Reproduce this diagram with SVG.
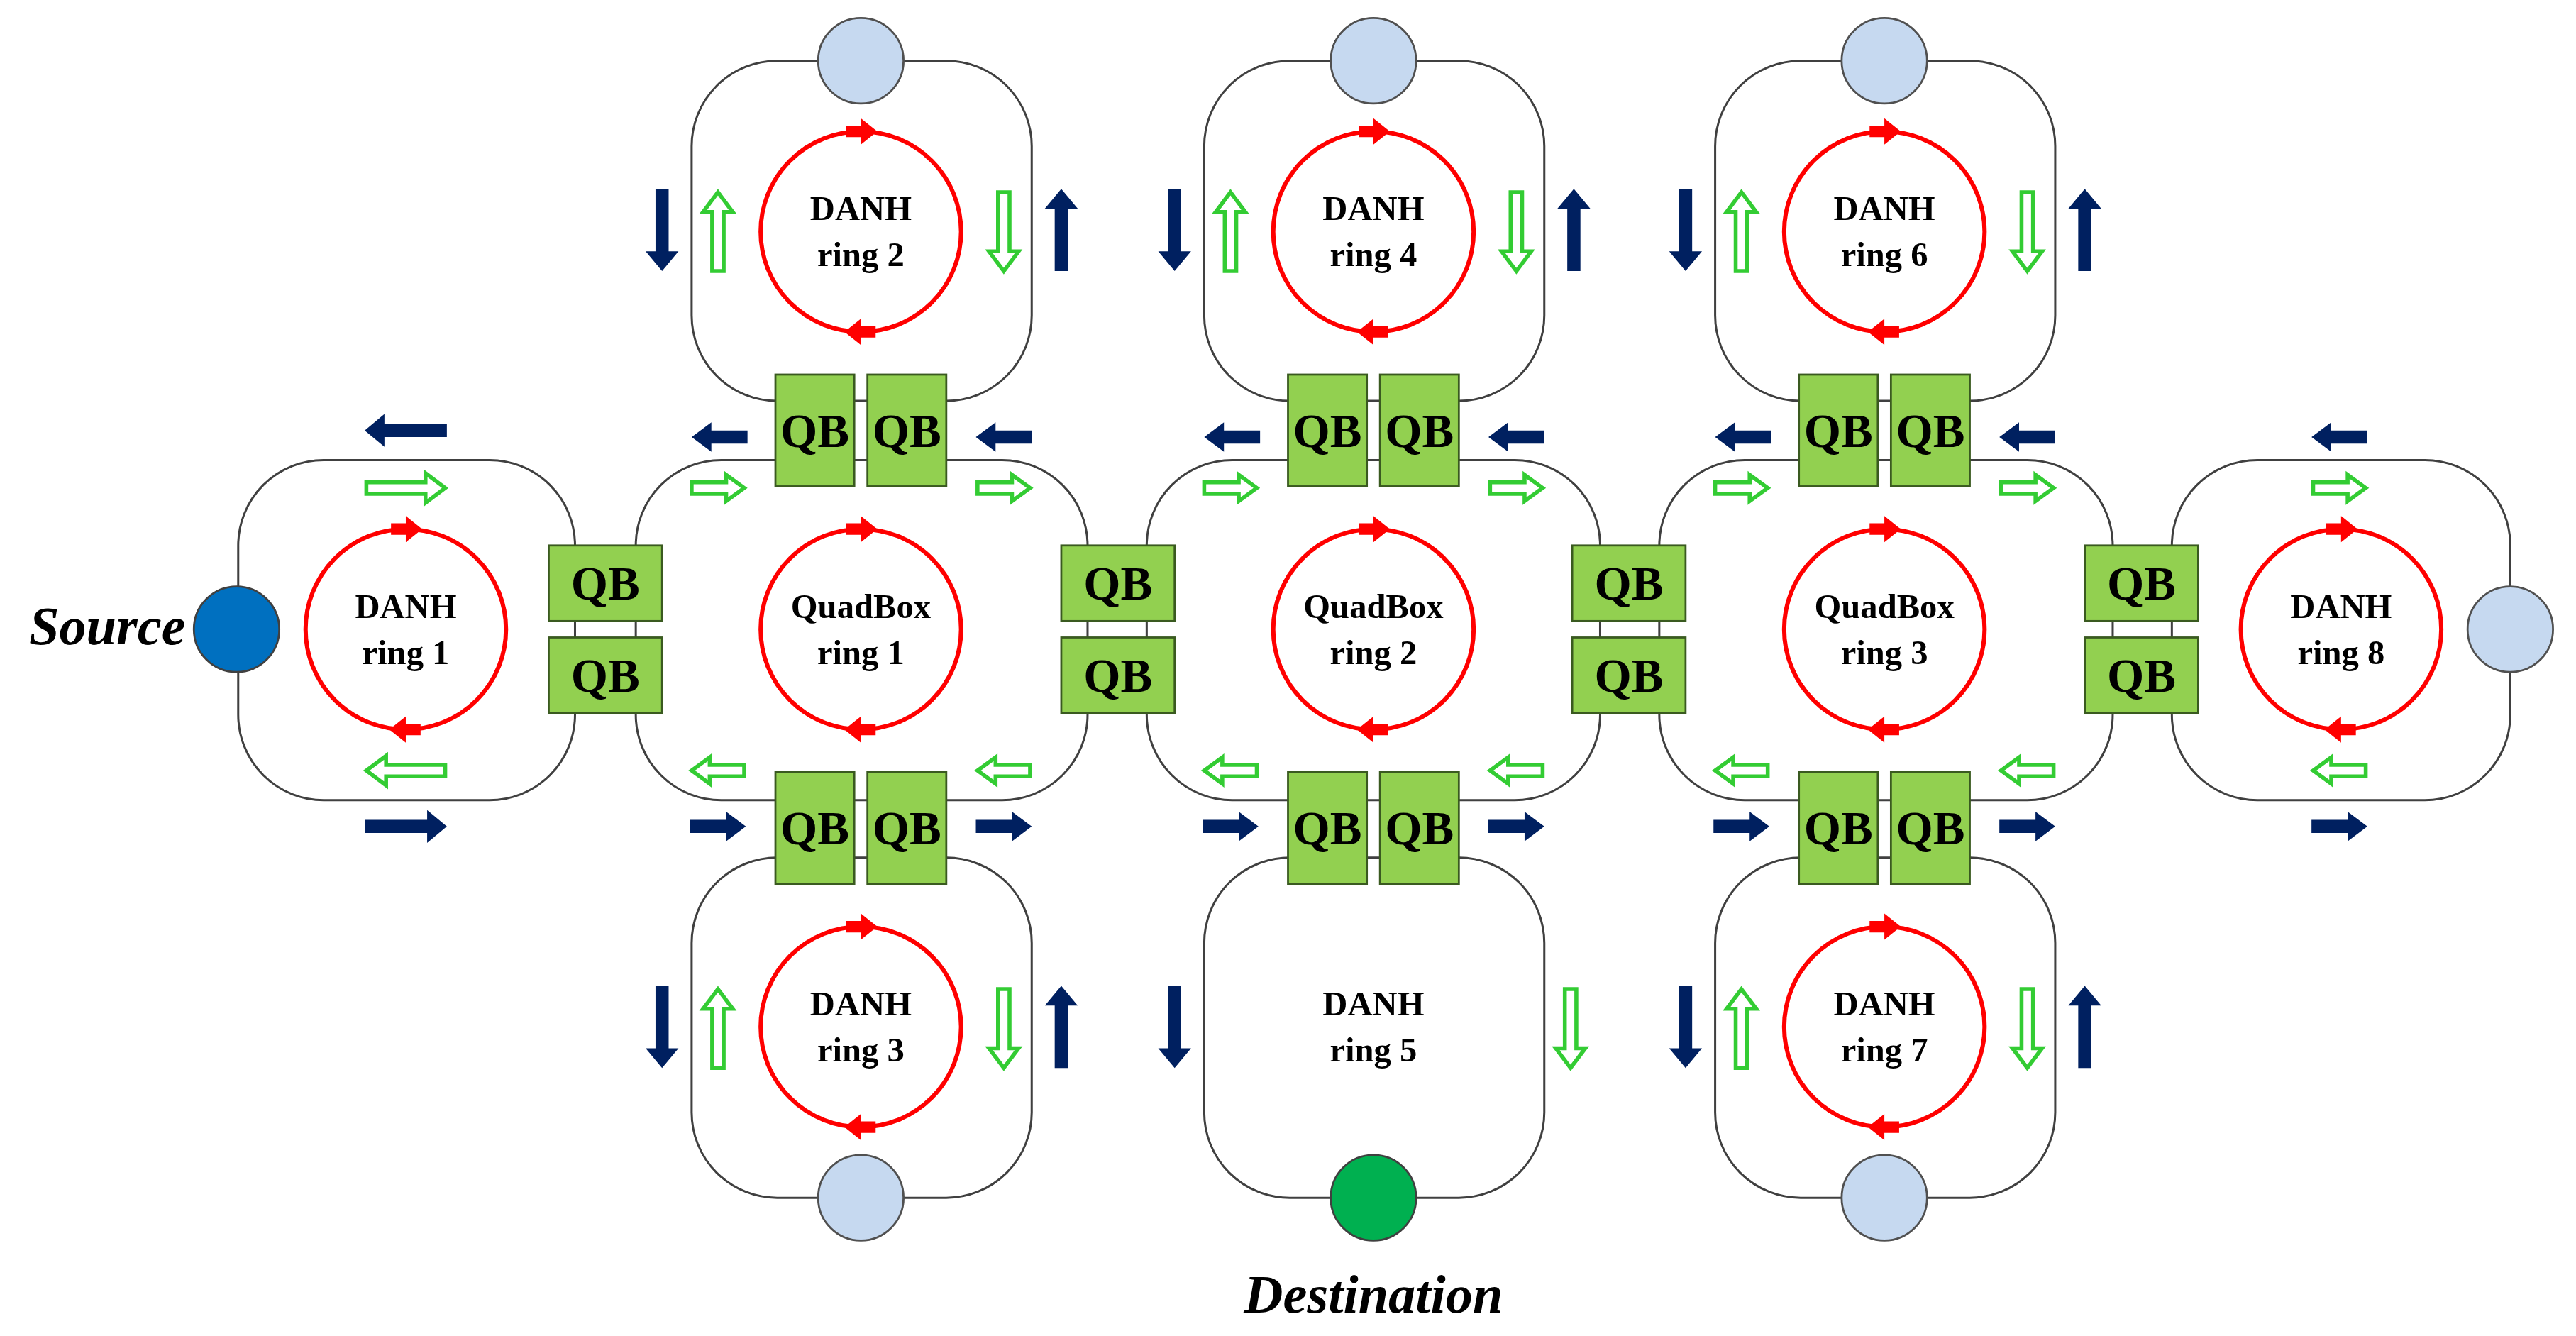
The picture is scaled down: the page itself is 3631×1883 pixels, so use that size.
<svg xmlns="http://www.w3.org/2000/svg" xmlns:xlink="http://www.w3.org/1999/xlink" width="3631" height="1883" viewBox="0 0 3631 1883">
<style>
.ring{fill:none;stroke:#404040;stroke-width:1.3}
.red{fill:none;stroke:#ff0000;stroke-width:2.6}
.qb{fill:#92d050;stroke:#3a5a20;stroke-width:1.2}
.qbt{font-family:"Liberation Serif",serif;font-weight:bold;font-size:29px;text-anchor:middle;fill:#000}
.lbl{font-family:"Liberation Serif",serif;font-weight:bold;font-size:21px;text-anchor:middle;fill:#000}
.big{font-family:"Liberation Serif",serif;font-weight:bold;font-style:italic;font-size:33px;fill:#000}
.lt{fill:#c6d9f0;stroke:#505050;stroke-width:1.2}
</style>
<defs>
<polygon id="nS" points="-17,-4 5,-4 5,-9 17,0 5,9 5,4 -17,4" fill="#002060"/>
<polygon id="nL" points="-25,-4 13,-4 13,-10 25,0 13,10 13,4 -25,4" fill="#002060"/>
<polygon id="gS" points="-16,-3.5 5,-3.5 5,-8 16,0 5,8 5,3.5 -16,3.5" fill="#fff" stroke="#33cc33" stroke-width="2.4"/>
<polygon id="gL" points="-24,-3.5 12,-3.5 12,-9 24,0 12,9 12,3.5 -24,3.5" fill="#fff" stroke="#33cc33" stroke-width="2.4"/>
<polygon id="rA" points="-9,-3.5 0,-3.5 0,-8 10,0 0,8 0,3.5 -9,3.5" fill="#ff0000"/>
</defs>
<rect width="3631" height="1883" fill="#fff"/>
<g transform="scale(2.31569)">
<g id="connectors">
<rect class="ring" x="145" y="280" width="205" height="207" rx="52"/>
<rect class="ring" x="387" y="280" width="275" height="207" rx="52"/>
<rect class="ring" x="698" y="280" width="276" height="207" rx="52"/>
<rect class="ring" x="1010" y="280" width="276" height="207" rx="52"/>
<rect class="ring" x="1322" y="280" width="206" height="207" rx="52"/>
<rect class="ring" x="421" y="37" width="207" height="207" rx="52"/>
<rect class="ring" x="733" y="37" width="207" height="207" rx="52"/>
<rect class="ring" x="1044" y="37" width="207" height="207" rx="52"/>
<rect class="ring" x="421" y="522" width="207" height="207" rx="52"/>
<rect class="ring" x="733" y="522" width="207" height="207" rx="52"/>
<rect class="ring" x="1044" y="522" width="207" height="207" rx="52"/>
</g>
<g id="redrings">
<circle class="red" cx="247" cy="383" r="61"/><use href="#rA" x="247" y="322"/><use href="#rA" transform="translate(247 444) rotate(180)"/>
<circle class="red" cx="524" cy="383" r="61"/><use href="#rA" x="524" y="322"/><use href="#rA" transform="translate(524 444) rotate(180)"/>
<circle class="red" cx="836" cy="383" r="61"/><use href="#rA" x="836" y="322"/><use href="#rA" transform="translate(836 444) rotate(180)"/>
<circle class="red" cx="1147" cy="383" r="61"/><use href="#rA" x="1147" y="322"/><use href="#rA" transform="translate(1147 444) rotate(180)"/>
<circle class="red" cx="1425" cy="383" r="61"/><use href="#rA" x="1425" y="322"/><use href="#rA" transform="translate(1425 444) rotate(180)"/>
<circle class="red" cx="524" cy="141" r="61"/><use href="#rA" x="524" y="80"/><use href="#rA" transform="translate(524 202) rotate(180)"/>
<circle class="red" cx="836" cy="141" r="61"/><use href="#rA" x="836" y="80"/><use href="#rA" transform="translate(836 202) rotate(180)"/>
<circle class="red" cx="1147" cy="141" r="61"/><use href="#rA" x="1147" y="80"/><use href="#rA" transform="translate(1147 202) rotate(180)"/>
<circle class="red" cx="524" cy="625" r="61"/><use href="#rA" x="524" y="564"/><use href="#rA" transform="translate(524 686) rotate(180)"/>
<circle class="red" cx="1147" cy="625" r="61"/><use href="#rA" x="1147" y="564"/><use href="#rA" transform="translate(1147 686) rotate(180)"/>
</g>
<g id="arrows">
<use href="#nL" transform="translate(247 262) rotate(180)"/><use href="#gL" x="247" y="297"/><use href="#gL" transform="translate(247 469) rotate(180)"/><use href="#nL" x="247" y="503"/>
<use href="#nS" transform="translate(1424 266) rotate(180)"/><use href="#gS" x="1424" y="297"/><use href="#gS" transform="translate(1424 469) rotate(180)"/><use href="#nS" x="1424" y="503"/>
<use href="#nS" transform="translate(438 266) rotate(180)"/><use href="#nS" transform="translate(611 266) rotate(180)"/><use href="#gS" x="437" y="297"/><use href="#gS" x="611" y="297"/><use href="#gS" transform="translate(437 469) rotate(180)"/><use href="#gS" transform="translate(611 469) rotate(180)"/><use href="#nS" x="437" y="503"/><use href="#nS" x="611" y="503"/>
<use href="#nS" transform="translate(750 266) rotate(180)"/><use href="#nS" transform="translate(923 266) rotate(180)"/><use href="#gS" x="749" y="297"/><use href="#gS" x="923" y="297"/><use href="#gS" transform="translate(749 469) rotate(180)"/><use href="#gS" transform="translate(923 469) rotate(180)"/><use href="#nS" x="749" y="503"/><use href="#nS" x="923" y="503"/>
<use href="#nS" transform="translate(1061 266) rotate(180)"/><use href="#nS" transform="translate(1234 266) rotate(180)"/><use href="#gS" x="1060" y="297"/><use href="#gS" x="1234" y="297"/><use href="#gS" transform="translate(1060 469) rotate(180)"/><use href="#gS" transform="translate(1234 469) rotate(180)"/><use href="#nS" x="1060" y="503"/><use href="#nS" x="1234" y="503"/>
<use href="#nL" transform="translate(403 140) rotate(90)"/><use href="#gL" transform="translate(437 141) rotate(-90)"/><use href="#gL" transform="translate(611 141) rotate(90)"/><use href="#nL" transform="translate(646 140) rotate(-90)"/>
<use href="#nL" transform="translate(715 140) rotate(90)"/><use href="#gL" transform="translate(749 141) rotate(-90)"/><use href="#gL" transform="translate(923 141) rotate(90)"/><use href="#nL" transform="translate(958 140) rotate(-90)"/>
<use href="#nL" transform="translate(1026 140) rotate(90)"/><use href="#gL" transform="translate(1060 141) rotate(-90)"/><use href="#gL" transform="translate(1234 141) rotate(90)"/><use href="#nL" transform="translate(1269 140) rotate(-90)"/>
<use href="#nL" transform="translate(403 625) rotate(90)"/><use href="#gL" transform="translate(437 626) rotate(-90)"/><use href="#gL" transform="translate(611 626) rotate(90)"/><use href="#nL" transform="translate(646 625) rotate(-90)"/>
<use href="#nL" transform="translate(715 625) rotate(90)"/><use href="#gL" transform="translate(956 626) rotate(90)"/>
<use href="#nL" transform="translate(1026 625) rotate(90)"/><use href="#gL" transform="translate(1060 626) rotate(-90)"/><use href="#gL" transform="translate(1234 626) rotate(90)"/><use href="#nL" transform="translate(1269 625) rotate(-90)"/>
</g>
<g id="qbs">
<g id="qb-t1"><rect class="qb" x="472" y="228" width="48" height="68"/><text class="qbt" x="496" y="272">QB</text><rect class="qb" x="528" y="228" width="48" height="68"/><text class="qbt" x="552" y="272">QB</text></g>
<g id="qb-t2"><rect class="qb" x="784" y="228" width="48" height="68"/><text class="qbt" x="808" y="272">QB</text><rect class="qb" x="840" y="228" width="48" height="68"/><text class="qbt" x="864" y="272">QB</text></g>
<g id="qb-t3"><rect class="qb" x="1095" y="228" width="48" height="68"/><text class="qbt" x="1119" y="272">QB</text><rect class="qb" x="1151" y="228" width="48" height="68"/><text class="qbt" x="1175" y="272">QB</text></g>
<g id="qb-b1"><rect class="qb" x="472" y="470" width="48" height="68"/><text class="qbt" x="496" y="514">QB</text><rect class="qb" x="528" y="470" width="48" height="68"/><text class="qbt" x="552" y="514">QB</text></g>
<g id="qb-b2"><rect class="qb" x="784" y="470" width="48" height="68"/><text class="qbt" x="808" y="514">QB</text><rect class="qb" x="840" y="470" width="48" height="68"/><text class="qbt" x="864" y="514">QB</text></g>
<g id="qb-b3"><rect class="qb" x="1095" y="470" width="48" height="68"/><text class="qbt" x="1119" y="514">QB</text><rect class="qb" x="1151" y="470" width="48" height="68"/><text class="qbt" x="1175" y="514">QB</text></g>
<g id="qb-s1"><rect class="qb" x="334" y="332" width="69" height="46"/><text class="qbt" x="368.5" y="365">QB</text><rect class="qb" x="334" y="388" width="69" height="46"/><text class="qbt" x="368.5" y="421">QB</text></g>
<g id="qb-s2"><rect class="qb" x="646" y="332" width="69" height="46"/><text class="qbt" x="680.5" y="365">QB</text><rect class="qb" x="646" y="388" width="69" height="46"/><text class="qbt" x="680.5" y="421">QB</text></g>
<g id="qb-s3"><rect class="qb" x="957" y="332" width="69" height="46"/><text class="qbt" x="991.5" y="365">QB</text><rect class="qb" x="957" y="388" width="69" height="46"/><text class="qbt" x="991.5" y="421">QB</text></g>
<g id="qb-s4"><rect class="qb" x="1269" y="332" width="69" height="46"/><text class="qbt" x="1303.5" y="365">QB</text><rect class="qb" x="1269" y="388" width="69" height="46"/><text class="qbt" x="1303.5" y="421">QB</text></g>
</g>
<g id="nodes">
<circle class="lt" cx="524" cy="37" r="26"/><circle class="lt" cx="836" cy="37" r="26"/><circle class="lt" cx="1147" cy="37" r="26"/>
<circle class="lt" cx="524" cy="729" r="26"/><circle cx="836" cy="729" r="26" fill="#00b050" stroke="#404040" stroke-width="1.2"/><circle class="lt" cx="1147" cy="729" r="26"/>
<circle cx="144" cy="383" r="26" fill="#0070c0" stroke="#404040" stroke-width="1.2"/><circle class="lt" cx="1528" cy="383" r="26"/>
</g>
<g id="labels">
<text class="lbl" x="247" y="376">DANH</text><text class="lbl" x="247" y="404">ring 1</text>
<text class="lbl" x="524" y="376">QuadBox</text><text class="lbl" x="524" y="404">ring 1</text>
<text class="lbl" x="836" y="376">QuadBox</text><text class="lbl" x="836" y="404">ring 2</text>
<text class="lbl" x="1147" y="376">QuadBox</text><text class="lbl" x="1147" y="404">ring 3</text>
<text class="lbl" x="1425" y="376">DANH</text><text class="lbl" x="1425" y="404">ring 8</text>
<text class="lbl" x="524" y="134">DANH</text><text class="lbl" x="524" y="162">ring 2</text>
<text class="lbl" x="836" y="134">DANH</text><text class="lbl" x="836" y="162">ring 4</text>
<text class="lbl" x="1147" y="134">DANH</text><text class="lbl" x="1147" y="162">ring 6</text>
<text class="lbl" x="524" y="618">DANH</text><text class="lbl" x="524" y="646">ring 3</text>
<text class="lbl" x="836" y="618">DANH</text><text class="lbl" x="836" y="646">ring 5</text>
<text class="lbl" x="1147" y="618">DANH</text><text class="lbl" x="1147" y="646">ring 7</text>
<text class="big" x="113" y="392" text-anchor="end">Source</text>
<text class="big" x="836" y="799" text-anchor="middle">Destination</text>
</g>
</g>
</svg>
